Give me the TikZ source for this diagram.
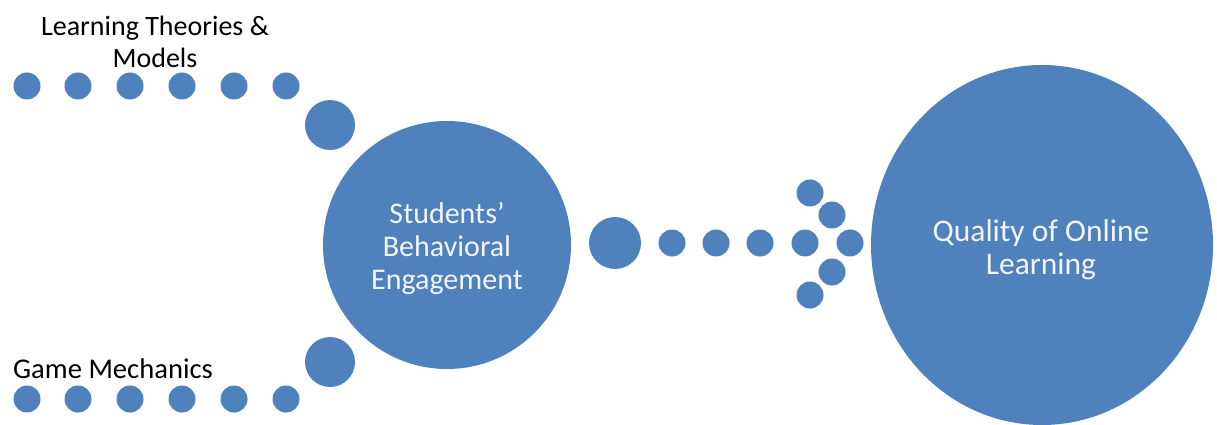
\documentclass[tikz,border=0pt]{standalone}
\usepackage{fontspec}
\setmainfont{Carlito}
\usetikzlibrary{shapes.geometric}
\definecolor{dotblue}{HTML}{4F81BD}
\definecolor{softwhite}{HTML}{F2F5FA}
\begin{document}
\begin{tikzpicture}[x=1pt,y=-1pt,
  dot/.style={circle,fill=dotblue,draw=none,inner sep=0pt,minimum size=#1},
  dot/.default=27pt,
  lbl/.style={font=\fontsize{28}{32}\selectfont,text=black,inner sep=0pt,align=center},
  inner/.style={font=\fontsize{30}{33}\selectfont,text=softwhite,align=center}]
\useasboundingbox (0,0) rectangle (1217,425);
% top row
\foreach \i/\x in {1/27,2/78,3/130,4/182,5/234,6/286}
  \node[dot] (t\i) at (\x,86) {};
\node[dot=50pt] (tb) at (330,125) {};
% bottom row
\foreach \i/\x in {1/27,2/78,3/130,4/182,5/234,6/286}
  \node[dot] (b\i) at (\x,399) {};
\node[dot=50pt] (bb) at (330,362) {};
% labels
\node[lbl] (ltm) at (155,42) {Learning Theories \&\\Models};
\node[lbl,font=\fontsize{28.6}{32}\selectfont,anchor=base west] (gm) at (13,378) {Game Mechanics};
% central circle
\node[dot=248pt,inner] (sbe) at (447,245) {};
\node[inner,inner sep=0pt] (sbet) at (447,248) {Students’\\Behavioral\\Engagement};
% arrow of dots
\node[dot=52pt] (a0) at (615,243) {};
\foreach \i/\x in {1/672,2/716,3/760,4/805,5/850}
  \node[dot] (a\i) at (\x,243) {};
\node[dot] (u1) at (810,193) {};
\node[dot] (u2) at (832,215) {};
\node[dot] (d1) at (832,272) {};
\node[dot] (d2) at (810,295) {};
% big ellipse
\node[ellipse,fill=dotblue,draw=none,inner sep=0pt,minimum width=342pt,minimum height=360pt] (qol) at (1042,245) {};
\node[inner,font=\fontsize{31.5}{33}\selectfont,inner sep=0pt] (qolt) at (1041,250) {Quality of Online\\Learning};
\end{tikzpicture}
\end{document}
